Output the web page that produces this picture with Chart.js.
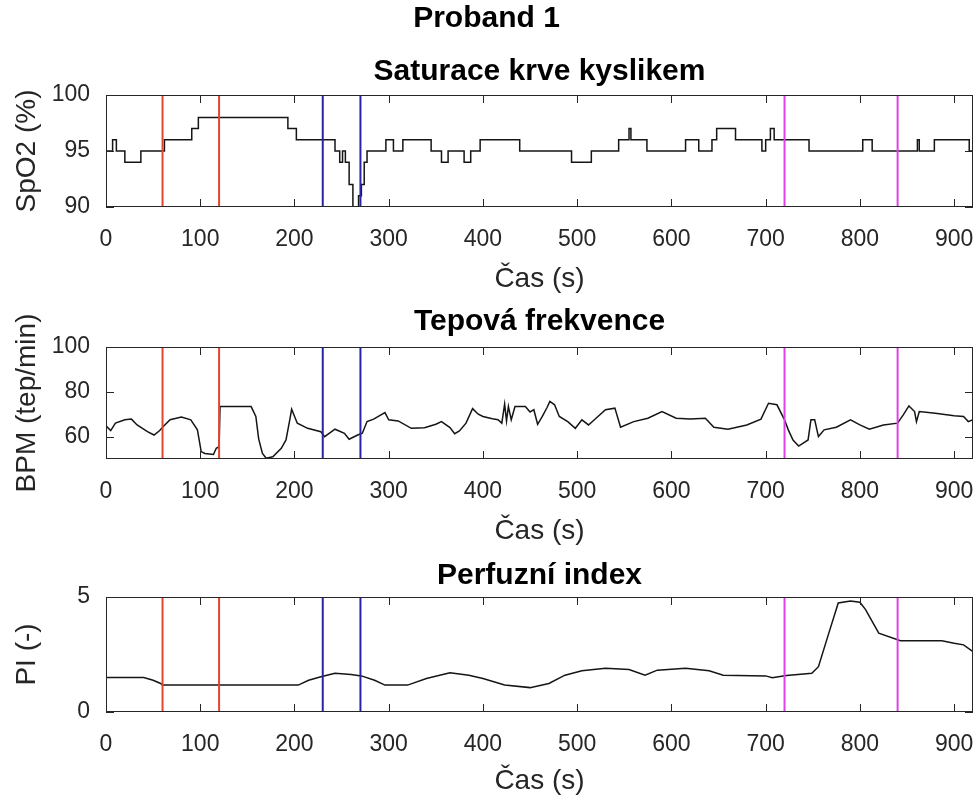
<!DOCTYPE html>
<html>
<head>
<meta charset="utf-8">
<script src="https://cdn.jsdelivr.net/npm/chart.js@4.4.0/dist/chart.umd.min.js"></script>
<style>
  body { margin: 0; background: #fff; }
  #wrap { position: relative; width: 979px; height: 799px; background: #fff; }
  #wrap canvas { position: absolute; left: 0; }
</style>
</head>
<body>
<div id="wrap">
  <canvas id="chartSpo2" width="979" height="300" style="top:0;width:979px;height:300px"></canvas>
  <canvas id="chartBpm" width="979" height="250" style="top:300px;width:979px;height:250px"></canvas>
  <canvas id="chartPi" width="979" height="249" style="top:550px;width:979px;height:249px"></canvas>
</div>
<script>
// marker times (s)
const redTimes = [60, 120];
const blueTimes = [230, 270];
const magentaTimes = [720, 840];

// x axis
const timeTicks = [0, 100, 200, 300, 400, 500, 600, 700, 800, 900];
const timeMax = 920;

// SpO2 - stepped, each point = new level from that time
const spo2Time = [0, 7, 11, 20, 37, 62, 91, 98, 193, 202, 243, 248, 251, 254, 258, 262, 266, 268, 271, 274, 277,
  297, 305, 315, 345, 356, 363, 380, 387, 397, 439, 494, 515, 544, 555, 557, 574, 615, 629, 643, 648, 668,
  696, 700, 705, 709, 746, 803, 813, 861, 863, 879, 916, 920];
const spo2Value = [95, 96, 95, 94, 95, 96, 97, 98, 97, 96, 95, 94, 95, 94, 92, 90, 90, 91, 92, 94, 95,
  96, 95, 96, 95, 94, 95, 94, 95, 96, 95, 94, 95, 96, 97, 96, 95, 96, 95, 96, 97, 96,
  95, 96, 97, 96, 95, 96, 95, 96, 95, 96, 95, 95];
const spo2Ticks = [90, 95, 100];

// BPM
const bpmTime = [0, 5, 10, 20, 27, 33, 44, 51, 57, 60, 68, 80, 90, 97, 101, 105, 114, 117, 120, 121, 154, 159, 162,
  166, 170, 177, 186, 191, 195, 197, 203, 214, 228, 232, 243, 253, 258, 267, 272, 277, 284, 296, 300, 310, 324,
  338, 350, 356, 365, 370, 375, 382, 389, 395, 400, 410, 416, 420, 423, 425, 427, 430, 434, 445, 450, 454, 458,
  463, 468, 471, 476, 481, 490, 498, 505, 512, 520, 530, 540, 546, 560, 575, 590, 605, 620, 636, 645, 660, 680,
  695, 703, 712, 720, 724, 729, 735, 745, 748, 752, 756, 762, 775, 790, 800, 810, 825, 840, 846, 852, 858, 860,
  863, 880, 900, 910, 915, 920];
const bpmValue = [64.8, 62.7, 66, 67.5, 67.8, 65.2, 62.2, 60.7, 62.7, 64.2, 67.5, 68.7, 67.5, 63, 53.3, 52.5, 52, 54.8,
  55.5, 73.4, 73.4, 69, 59, 52.5, 50.3, 51, 54.8, 58.5, 67.5, 72.2, 66, 63.7, 62.2, 60, 63.3, 61.5, 58.8, 60.7,
  61.5, 66.7, 67.8, 70.7, 67.5, 67, 63.7, 64, 65.5, 66.7, 64, 61.3, 62.5, 66, 72.5, 70, 69, 68, 67.5, 66, 74.5,
  67, 73.5, 67.5, 73.4, 73.4, 71, 72, 65.5, 69, 73, 75.7, 74.2, 69, 66.7, 63.7, 67.5, 65.2, 68.2, 72, 72.7, 64.2,
  66.7, 68.2, 71.2, 68.2, 67.9, 68.2, 64.2, 63.3, 65.2, 67.8, 74.9, 74.2, 67.5, 63, 58.5, 55.8, 58.5, 67.5, 67.5,
  60, 63, 64.2, 67.5, 65.2, 63.3, 65.2, 66, 69.7, 73.7, 71.2, 66.7, 71.2, 70.4, 69.3, 69, 66.7, 67.5];
const bpmTicks = [60, 80, 100];

// PI
const piTime = [0, 40, 50, 58, 60, 204, 215, 228, 243, 260, 271, 285, 296, 320, 340, 365, 385, 400, 423, 450, 470,
  487, 505, 530, 555, 572, 585, 615, 640, 655, 700, 707, 722, 749, 756, 767, 777, 790, 800, 806, 820, 843, 887,
  900, 910, 920];
const piValue = [1.5, 1.5, 1.38, 1.24, 1.17, 1.17, 1.38, 1.53, 1.68, 1.63, 1.57, 1.38, 1.17, 1.17, 1.46, 1.71, 1.6,
  1.46, 1.17, 1.06, 1.24, 1.6, 1.79, 1.9, 1.85, 1.6, 1.82, 1.9, 1.79, 1.6, 1.57, 1.49, 1.59, 1.68, 1.97, 3.43,
  4.74, 4.83, 4.77, 4.45, 3.43, 3.1, 3.1, 2.99, 2.92, 2.62];
const piTicks = [0, 5];

const fontFamily = "'Liberation Sans', Arial, Helvetica, sans-serif";
const tickColor = '#262626';
const tickLen = 8;

// box + inward tick marks like matlab
const matlabBox = {
    id: 'matlabBox',
    afterDatasetsDraw(chart) {
        const { ctx, chartArea: a, scales: { x, y } } = chart;
        ctx.save();
        ctx.strokeStyle = tickColor;
        ctx.lineWidth = 1;
        ctx.beginPath();
        x.ticks.forEach(t => {
            const px = Math.round(x.getPixelForValue(t.value)) + 0.5;
            ctx.moveTo(px, a.bottom);
            ctx.lineTo(px, a.bottom - tickLen);
            ctx.moveTo(px, a.top);
            ctx.lineTo(px, a.top + tickLen);
        });
        y.ticks.forEach(t => {
            const py = Math.round(y.getPixelForValue(t.value)) + 0.5;
            ctx.moveTo(a.left, py);
            ctx.lineTo(a.left + tickLen, py);
            ctx.moveTo(a.right, py);
            ctx.lineTo(a.right - tickLen, py);
        });
        ctx.stroke();
        ctx.strokeRect(Math.round(a.left) + 0.5, Math.round(a.top) + 0.5, Math.round(a.width) - 1, Math.round(a.height) - 1);
        ctx.restore();
    }
};

function markerSets(yMin, yMax) {
    const make = (times, color) => times.map(t => ({
        data: [{ x: t, y: yMin }, { x: t, y: yMax }],
        borderColor: color,
        borderWidth: 2,
        pointRadius: 0,
        order: 0
    }));
    return [
        ...make(redTimes, '#e4432d'),
        ...make(blueTimes, '#2525a5'),
        ...make(magentaTimes, '#e040e8')
    ];
}

function titleFont() {
    return { family: fontFamily, size: 30, weight: 'bold' };
}

function makePanel(id, cfg) {
    const yTicks = cfg.yTicks;
    const series = {
        data: cfg.time.map((t, i) => ({ x: t, y: cfg.values[i] })),
        borderColor: '#151515',
        borderWidth: 1.5,
        pointRadius: 0,
        stepped: cfg.stepped || false,
        order: 1
    };
    // subplot title is centred over the axes, figure title over the whole page
    const plugins = {
        legend: { display: false },
        tooltip: { enabled: false },
        title: {
            display: true,
            text: cfg.title,
            color: '#000',
            font: titleFont(),
            fullSize: !!cfg.subtitle,
            padding: cfg.titlePad
        },
        subtitle: cfg.subtitle ? {
            display: true,
            text: cfg.subtitle,
            color: '#000',
            font: titleFont(),
            fullSize: false,
            padding: cfg.subtitlePad
        } : { display: false }
    };
    return new Chart(document.getElementById(id), {
        type: 'line',
        data: { datasets: [...markerSets(cfg.yMin, cfg.yMax), series] },
        options: {
            responsive: false,
            animation: false,
            layout: { padding: { left: 0, right: 6, top: 0, bottom: 0 } },
            plugins,
            scales: {
                x: {
                    type: 'linear',
                    min: 0,
                    max: timeMax,
                    grid: { display: false, drawTicks: false },
                    border: { display: false },
                    afterBuildTicks: s => { s.ticks = timeTicks.map(v => ({ value: v })); },
                    afterFit: s => { s.height = cfg.xHeight; s.paddingLeft = 0; s.paddingRight = 0; },
                    ticks: { padding: 19, color: tickColor, font: { family: fontFamily, size: 23 }, maxRotation: 0, autoSkip: false },
                    title: {
                        display: true,
                        text: 'Čas (s)',
                        color: tickColor,
                        font: { family: fontFamily, size: 28 },
                        padding: { top: 0, bottom: cfg.xTitlePad }
                    }
                },
                y: {
                    type: 'linear',
                    min: cfg.yMin,
                    max: cfg.yMax,
                    grid: { display: false, drawTicks: false },
                    border: { display: false },
                    afterBuildTicks: s => { s.ticks = yTicks.map(v => ({ value: v })); },
                    afterFit: s => { s.width = 106; s.paddingTop = 0; s.paddingBottom = 0; },
                    ticks: { padding: 16, color: tickColor, font: { family: fontFamily, size: 23 } },
                    title: {
                        display: true,
                        text: cfg.yLabel,
                        color: tickColor,
                        font: { family: fontFamily, size: 28 },
                        padding: { top: 10, bottom: 0 }
                    }
                }
            }
        },
        plugins: [matlabBox]
    });
}

makePanel('chartSpo2', {
    title: 'Proband 1',
    titlePad: { top: 1, bottom: 17 },
    subtitle: 'Saturace krve kyslikem',
    subtitlePad: { top: 0, bottom: 5 },
    time: spo2Time, values: spo2Value, stepped: true,
    yTicks: spo2Ticks, yMin: 90, yMax: 100,
    yLabel: 'SpO2 (%)',
    xHeight: 93, xTitlePad: 4
});

makePanel('chartBpm', {
    title: 'Tepová frekvence',
    titlePad: { top: 4, bottom: 7 },
    time: bpmTime, values: bpmValue,
    yTicks: bpmTicks, yMin: 50, yMax: 100,
    yLabel: 'BPM (tep/min)',
    xHeight: 91, xTitlePad: 2
});

makePanel('chartPi', {
    title: 'Perfuzní index',
    titlePad: { top: 8, bottom: 3 },
    time: piTime, values: piValue,
    yTicks: piTicks, yMin: 0, yMax: 5,
    yLabel: 'PI (-)',
    xHeight: 87, xTitlePad: 1
});
</script>
</body>
</html>
